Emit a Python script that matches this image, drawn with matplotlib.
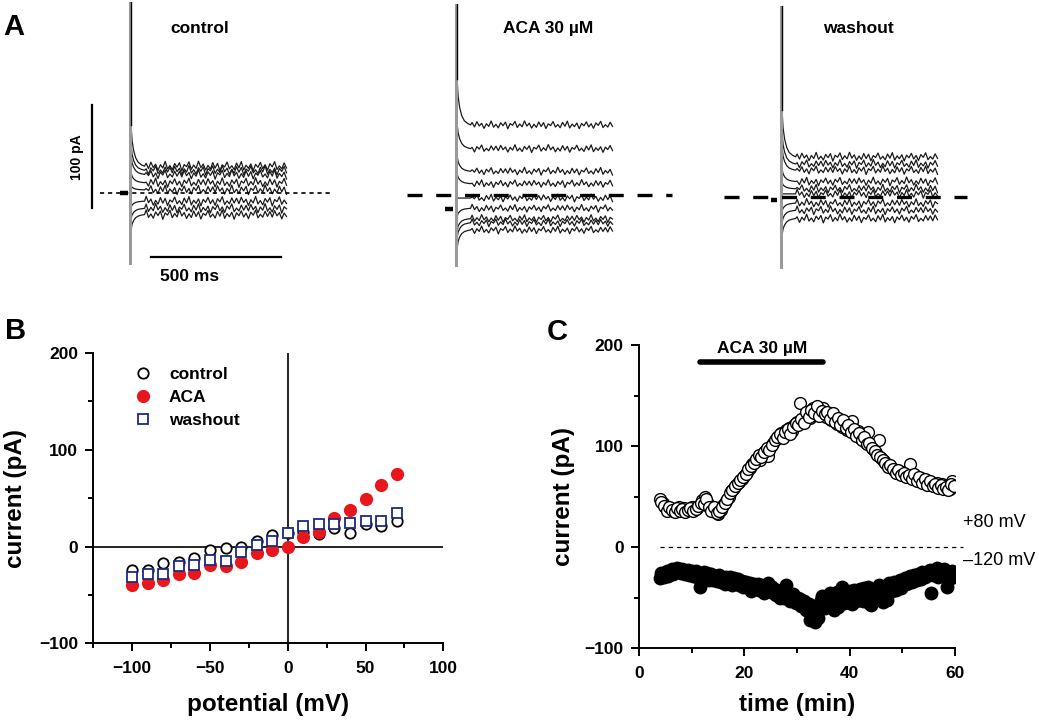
import numpy as np
import matplotlib
matplotlib.use('Agg')
import matplotlib.pyplot as plt
from matplotlib.ticker import MultipleLocator

plt.rcParams['font.family'] = ['Liberation Sans', 'DejaVu Sans']
plt.rcParams['font.weight'] = 'bold'
plt.rcParams['axes.labelweight'] = 'bold'
plt.rcParams['lines.scale_dashes'] = False

W, H = 1039, 722

# ---- panel A: sweep levels (pA, relative to zero-current line) ----
ctrl_levels = [26, 22, 18, 10, 3, -8, -15, -21]
ctrl_amps = [40, 25, 18, 10, 4, -6, -10, -15]
aca_levels = [68, 45, 23, 11, -3, -13, -23, -27, -34]
aca_amps = [45, 25, 15, 10, 0, -8, -12, -15, -18]
wash_levels = [39, 32, 26, 15, 8, 3, -6, -13, -21]
wash_amps = [45, 30, 22, 12, 6, 0, -8, -12, -16]

trans_t = [4, 8, 14, 22, 32, 45, 56]
trans_shape = [1.0, 0.62, 0.38, 0.2, 0.09, 0.03, 0.0]
trace_noise = [1.8, -1.5, 2.4, -0.8, 1.2, -2.6, 0.9, -1.1, 2.9, -1.7,
               0.4, -2.2, 1.6, -0.6, 2.1, -2.9, 1.0, -0.3, 2.6, -1.9,
               0.7, -1.4, 3.0, -0.9, 1.3, -2.4, 0.5, -1.8, 2.2, -1.2,
               1.7, -2.7, 0.8, -0.5, 2.5, -1.6, 0.3, -2.1, 1.9, -1.0,
               2.8, -2.3, 0.6, -1.3, 1.4, -2.8, 1.1, -0.7, 2.3, -1.5,
               0.9, -2.5, 1.5, -0.4, 2.7, -2.0, 0.2, -1.6, 2.0, -1.1]

# ---- panel B: I-V ----
potential = [-100, -90, -80, -70, -60, -50, -40, -30, -20, -10,
             0, 10, 20, 30, 40, 50, 60, 70]
ctrl_iv = [-24, -24, -17, -16, -12, -4, -1, 0, 6, 12,
           14, 15, 13, 19, 14, 23, 21, 26]
aca_iv = [-40, -38, -35, -28, -27, -19, -20, -16, -7, -4,
          0, 10, 15, 29, 38, 49, 64, 75]
wash_iv = [-31, -28, -28, -20, -19, -14, -15, -6, 2, 6,
           14, 21, 23, 23, 24, 26, 26, 35]

# ---- panel C: time course (two interleaved sweeps per half minute) ----
time_a = [4.0, 4.5, 5.0, 5.5, 6.0, 6.5, 7.0, 7.5, 8.0, 8.5,
          9.0, 9.5, 10.0, 10.5, 11.0, 11.5, 12.0, 12.5, 13.0, 13.5,
          14.0, 14.5, 15.0, 15.5, 16.0, 16.5, 17.0, 17.5, 18.0, 18.5,
          19.0, 19.5, 20.0, 20.5, 21.0, 21.5, 22.0, 22.5, 23.0, 23.5,
          24.0, 24.5, 25.0, 25.5, 26.0, 26.5, 27.0, 27.5, 28.0, 28.5,
          29.0, 29.5, 30.0, 30.5, 31.0, 31.5, 32.0, 32.5, 33.0, 33.5,
          34.0, 34.5, 35.0, 35.5, 36.0, 36.5, 37.0, 37.5, 38.0, 38.5,
          39.0, 39.5, 40.0, 40.5, 41.0, 41.5, 42.0, 42.5, 43.0, 43.5,
          44.0, 44.5, 45.0, 45.5, 46.0, 46.5, 47.0, 47.5, 48.0, 48.5,
          49.0, 49.5, 50.0, 50.5, 51.0, 51.5, 52.0, 52.5, 53.0, 53.5,
          54.0, 54.5, 55.0, 55.5, 56.0, 56.5, 57.0, 57.5, 58.0, 58.5,
          59.0, 59.5]
time_b = [4.25, 4.75, 5.25, 5.75, 6.25, 6.75, 7.25, 7.75, 8.25, 8.75,
          9.25, 9.75, 10.25, 10.75, 11.25, 11.75, 12.25, 12.75, 13.25, 13.75,
          14.25, 14.75, 15.25, 15.75, 16.25, 16.75, 17.25, 17.75, 18.25, 18.75,
          19.25, 19.75, 20.25, 20.75, 21.25, 21.75, 22.25, 22.75, 23.25, 23.75,
          24.25, 24.75, 25.25, 25.75, 26.25, 26.75, 27.25, 27.75, 28.25, 28.75,
          29.25, 29.75, 30.25, 30.75, 31.25, 31.75, 32.25, 32.75, 33.25, 33.75,
          34.25, 34.75, 35.25, 35.75, 36.25, 36.75, 37.25, 37.75, 38.25, 38.75,
          39.25, 39.75, 40.25, 40.75, 41.25, 41.75, 42.25, 42.75, 43.25, 43.75,
          44.25, 44.75, 45.25, 45.75, 46.25, 46.75, 47.25, 47.75, 48.25, 48.75,
          49.25, 49.75, 50.25, 50.75, 51.25, 51.75, 52.25, 52.75, 53.25, 53.75,
          54.25, 54.75, 55.25, 55.75, 56.25, 56.75, 57.25, 57.75, 58.25, 58.75,
          59.25, 59.75]
plus80_a = [48, 44, 40, 37, 39, 36, 38, 40, 37, 39,
            36, 38, 40, 37, 39, 42, 47, 50, 45, 41,
            38, 35, 33, 37, 42, 46, 50, 55, 58, 61,
            64, 67, 70, 74, 78, 82, 85, 88, 86, 92,
            95, 90, 100, 103, 107, 110, 113, 111, 116, 118,
            115, 121, 124, 143, 126, 130, 133, 128, 138, 131,
            136, 133, 138, 129, 131, 126, 130, 122, 125, 119,
            123, 116, 119, 125, 112, 115, 108, 111, 104, 114,
            100, 97, 93, 106, 88, 85, 82, 80, 78, 76,
            75, 72, 74, 70, 72, 82, 70, 68, 66, 68,
            64, 66, 62, 64, 60, 63, 59, 62, 58, 60,
            57, 65]
plus80_b = [45, 41, 36, 40, 37, 35, 39, 36, 38, 35,
            37, 39, 36, 38, 41, 44, 43, 48, 40, 36,
            40, 34, 36, 40, 44, 48, 53, 56, 60, 63,
            66, 69, 72, 77, 80, 83, 87, 91, 89, 94,
            98, 96, 101, 106, 109, 112, 108, 114, 117, 112,
            119, 123, 121, 127, 123, 134, 129, 136, 133, 140,
            130, 135, 132, 134, 127, 133, 124, 128, 121, 126,
            118, 121, 114, 117, 110, 113, 106, 109, 102, 103,
            98, 95, 91, 89, 86, 83, 79, 81, 77, 73,
            76, 71, 73, 69, 71, 67, 72, 65, 69, 63,
            67, 61, 65, 60, 62, 58, 61, 57, 59, 56,
            62, 60]
minus120_a = [-31, -28, -27, -29, -25, -27, -24, -22, -26, -23,
              -25, -28, -24, -27, -30, -40, -28, -31, -26, -30,
              -33, -29, -31, -35, -32, -30, -36, -33, -31, -35,
              -38, -34, -37, -40, -36, -42, -39, -37, -41, -44,
              -40, -36, -45, -42, -48, -44, -47, -50, -38, -46,
              -52, -49, -54, -51, -57, -55, -60, -72, -65, -74,
              -70, -52, -55, -50, -58, -47, -62, -45, -52, -40,
              -55, -48, -44, -56, -46, -50, -42, -53, -45, -40,
              -57, -43, -48, -38, -46, -41, -52, -36, -44, -35,
              -40, -33, -38, -31, -36, -29, -34, -30, -27, -32,
              -26, -29, -24, -46, -27, -21, -25, -28, -22, -40,
              -27, -24]
minus120_b = [-26, -30, -24, -27, -22, -25, -21, -25, -22, -27,
              -23, -26, -29, -24, -27, -31, -25, -28, -33, -27,
              -30, -34, -28, -31, -37, -33, -30, -38, -34, -32,
              -36, -40, -35, -38, -44, -37, -41, -43, -38, -46,
              -42, -44, -40, -47, -43, -50, -45, -42, -49, -53,
              -47, -55, -50, -58, -53, -62, -56, -68, -59, -66,
              -56, -49, -60, -53, -46, -56, -50, -59, -44, -52,
              -46, -54, -49, -43, -53, -45, -51, -41, -49, -55,
              -44, -50, -41, -47, -54, -39, -45, -42, -37, -43,
              -35, -41, -34, -37, -31, -35, -28, -33, -29, -25,
              -30, -27, -23, -28, -25, -30, -23, -26, -29, -25,
              -31, -26]
aca_period = [11.6, 35.0]

fig = plt.figure(figsize=(W / 100, H / 100), dpi=100)


def px_rect(left, top, width, height):
    return [left / W, (H - top - height) / H, width / W, height / H]


# ---------------- panel A ----------------
def trace_panel(spike_px, base_py, levels, amps, nscale, hold_t, hold_level,
                zero_t, zero_dashes, zero_lw):
    # 0.26 px per ms, 1.03 px per pA
    ax = fig.add_axes(px_rect(spike_px - 52, base_py - 190.6, 260, 278.1))
    ax.set_xlim(-200, 800)
    ax.set_ylim(-85, 185)
    ax.axis('off')
    noise = np.array(trace_noise) * nscale
    noise_t = np.linspace(62, 602, len(noise))
    for i, (lev, amp) in enumerate(zip(levels, amps)):
        jit = np.roll(noise, 7 * i + 3 * (i % 2))
        t = np.concatenate([trans_t, noise_t])
        y = np.concatenate([lev + amp * np.array(trans_shape), lev + jit])
        ax.plot(t, y, color='#1a1a1a', lw=0.9)
    ax.plot([0, 0], [-68, 185], color='#9a9a9a', lw=2.2, zorder=3)
    ax.plot([2.5, 2.5], [185, levels[0] + amps[0]], color='black', lw=1.0, zorder=3)
    ax.plot(hold_t, [hold_level, hold_level], color='black', lw=3.2,
            solid_capstyle='butt')
    zl, = ax.plot(zero_t, [0, 0], color='black', lw=zero_lw, clip_on=False, zorder=4)
    zl.set_dashes(zero_dashes)
    return ax


axA1 = trace_panel(130, 193, ctrl_levels, ctrl_amps, 1.6, [-38, -8], 0,
                   [-115, 769], (3.0, 2.8), 1.2)
axA2 = trace_panel(456, 195, aca_levels, aca_amps, 1.3, [-42, -12], -13.5,
                   [-188, 831], (10.8, 9.9), 2.4)
axA3 = trace_panel(781, 197, wash_levels, wash_amps, 1.45, [-38, -15], -3,
                   [-219, 715], (10.8, 9.9), 2.4)

# scale bars (control panel)
axA1.plot([-146, -146], [-15, 85], color='black', lw=1.6, clip_on=False)
axA1.plot([81, 581], [-62, -62], color='black', lw=1.6, clip_on=False)
axA1.text(-204, 35, '100 pA', rotation=90, ha='center', va='center', fontsize=10)
axA1.text(228, -81, '500 ms', ha='center', va='center', fontsize=12.5)

fig.text(14 / W, 1 - 35 / H, 'A', fontsize=21, ha='center', va='baseline')
fig.text(200 / W, 1 - 33 / H, 'control', fontsize=12.5, ha='center', va='baseline')
fig.text(548 / W, 1 - 33 / H, 'ACA 30 µM', fontsize=12.5, ha='center', va='baseline')
fig.text(858 / W, 1 - 33 / H, 'washout', fontsize=12.5, ha='center', va='baseline')
fig.text(16 / W, 1 - 339 / H, 'B', fontsize=21, ha='center', va='baseline')
fig.text(557 / W, 1 - 340 / H, 'C', fontsize=21, ha='center', va='baseline')


def style_axes(ax):
    for s in ['top', 'right']:
        ax.spines[s].set_visible(False)
    for s in ['left', 'bottom']:
        ax.spines[s].set_linewidth(1.4)
    ax.tick_params(which='major', direction='out', length=6, width=1.4,
                   labelsize=12.5, pad=5)
    ax.tick_params(which='minor', direction='out', length=3.6, width=1.4)
    ax.tick_params(axis='x', which='major', pad=7)


# ---------------- panel B ----------------
axB = fig.add_axes(px_rect(93.3, 353, 350, 290.3))
axB.axhline(0, color='black', lw=1.2, zorder=1)
axB.axvline(0, color='black', lw=1.2, zorder=1)
axB.plot(potential, ctrl_iv, 'o', mfc='white', mec='black', ms=7.5, mew=1.3,
         label='control', clip_on=False)
axB.plot(potential, aca_iv, 'o', color='#e8161d', ms=9.5, mew=0,
         label='ACA', clip_on=False)
axB.plot(potential, wash_iv, 's', mfc='white', mec='#1c2a80', ms=7, mew=1.3,
         label='washout', clip_on=False)
axB.set_xlim(-125, 100)
axB.set_ylim(-100, 200)
axB.xaxis.set_major_locator(MultipleLocator(50))
axB.xaxis.set_minor_locator(MultipleLocator(25))
axB.yaxis.set_major_locator(MultipleLocator(100))
axB.yaxis.set_minor_locator(MultipleLocator(50))
style_axes(axB)
axB.set_xlabel('potential (mV)', fontsize=17.5)
axB.set_ylabel('current (pA)', fontsize=17.5)
axB.xaxis.set_label_coords(0.5, -0.2125)
axB.xaxis.label.set_verticalalignment('center')
axB.yaxis.set_label_coords(-0.189, 0.5)
axB.legend(loc='upper left', bbox_to_anchor=(0.097, 0.977), frameon=False,
           fontsize=12.5, handlelength=1.0, handletextpad=1.0,
           labelspacing=0.45, borderaxespad=0)

# ---------------- panel C ----------------
axC = fig.add_axes(px_rect(639, 345, 316, 303))
axC.plot(time_a, plus80_a, 'o', mfc='white', mec='black', ms=8.5, mew=1.0)
axC.plot(time_b, plus80_b, 'o', mfc='white', mec='black', ms=8.5, mew=1.0)
axC.plot(time_a, minus120_a, 'o', color='black', ms=10, mew=0)
axC.plot(time_b, minus120_b, 'o', color='black', ms=10, mew=0)
zc, = axC.plot([4, 61.5], [0, 0], color='black', lw=0.9, clip_on=False)
zc.set_dashes((3, 3))
axC.plot(aca_period, [183, 183], color='black', lw=4, solid_capstyle='round')
axC.text(sum(aca_period) / 2, 197, 'ACA 30 µM', ha='center', va='center',
         fontsize=12.5, clip_on=False)
axC.text(61.5, 20, '+80 mV', fontsize=13, fontweight='normal', ha='left',
         va='baseline', clip_on=False)
axC.text(61.5, -18, '–120 mV', fontsize=13, fontweight='normal', ha='left',
         va='baseline', clip_on=False)
axC.set_xlim(0, 60)
axC.set_ylim(-100, 200)
axC.xaxis.set_major_locator(MultipleLocator(20))
axC.xaxis.set_minor_locator(MultipleLocator(10))
axC.yaxis.set_major_locator(MultipleLocator(100))
axC.yaxis.set_minor_locator(MultipleLocator(50))
style_axes(axC)
axC.set_xlabel('time (min)', fontsize=17.5)
axC.set_ylabel('current (pA)', fontsize=17.5)
axC.xaxis.set_label_coords(0.5, -0.188)
axC.xaxis.label.set_verticalalignment('center')
axC.yaxis.set_label_coords(-0.2025, 0.5)

fig.savefig('out.png', dpi=100)
